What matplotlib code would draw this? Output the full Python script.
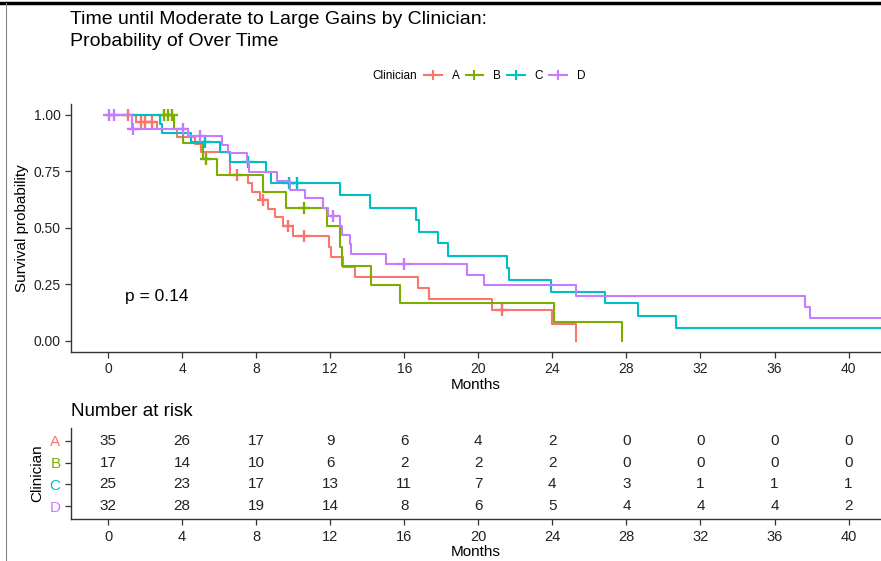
import numpy as np
import matplotlib.pyplot as plt
from matplotlib.lines import Line2D

groups = ['A', 'B', 'C', 'D']
colors = ['#F8766D', '#7CAE00', '#00BFC4', '#C77CFF']

# Kaplan-Meier steps (time of step, survival after step) and censor times
a_time = [0, 1.5, 2.63, 3.7, 4.7, 5.0, 6.6, 7.57, 7.8, 8.2, 8.65, 9.0, 9.46, 10.0,
          11.95, 12.07, 12.7, 13.33, 16.75, 17.35, 20.75, 24.0, 25.25]
a_surv = [1.0, 0.971, 0.938, 0.904, 0.87, 0.835, 0.735, 0.698, 0.66, 0.624, 0.583, 0.55, 0.506, 0.465,
          0.417, 0.373, 0.326, 0.282, 0.232, 0.184, 0.137, 0.072, 0.0]
a_cens = [1.1, 1.8, 2.0, 2.4, 6.95, 8.39, 9.73, 10.6, 21.3]

b_time = [0, 3.55, 4.07, 5.14, 5.87, 8.39, 9.61, 11.85, 12.55, 12.62, 14.2, 15.76, 24.1, 27.75]
b_surv = [1.0, 0.9375, 0.875, 0.805, 0.735, 0.661, 0.587, 0.506, 0.414, 0.332, 0.249, 0.166, 0.083, 0.0]
b_cens = [3.0, 3.25, 3.45, 5.27, 10.6]

c_time = [0, 2.8, 2.9, 4.5, 6.05, 6.59, 8.53, 8.78, 12.52, 14.16, 16.65, 16.78, 17.82, 18.35,
          21.56, 21.65, 23.9, 26.85, 28.6, 30.66, 42.0]
c_surv = [1.0, 0.96, 0.92, 0.88, 0.838, 0.79, 0.749, 0.70, 0.646, 0.59, 0.535, 0.482, 0.431, 0.376,
          0.32, 0.271, 0.217, 0.167, 0.111, 0.056, 0.056]
c_cens = [5.24, 7.57, 9.79, 10.19]

d_time = [0, 1.28, 4.3, 6.14, 6.5, 7.49, 7.6, 9.1, 9.82, 10.63, 11.62, 11.9, 12.52, 12.62, 13.06, 13.15,
          15.0, 19.4, 20.3, 25.26, 37.65, 37.93, 42.0]
d_surv = [1.0, 0.938, 0.907, 0.867, 0.83, 0.79, 0.749, 0.708, 0.668, 0.631, 0.587, 0.553, 0.51, 0.469, 0.43, 0.385,
          0.339, 0.292, 0.245, 0.196, 0.15, 0.10, 0.10]
d_cens = [0.05, 0.3, 1.35, 4.05, 4.97, 12.16, 15.98]

risk_times = [0, 4, 8, 12, 16, 20, 24, 28, 32, 36, 40]
risk_a = [35, 26, 17, 9, 6, 4, 2, 0, 0, 0, 0]
risk_b = [17, 14, 10, 6, 2, 2, 2, 0, 0, 0, 0]
risk_c = [25, 23, 17, 13, 11, 7, 4, 3, 1, 1, 1]
risk_d = [32, 28, 19, 14, 8, 6, 5, 4, 4, 4, 2]

curves = [(a_time, a_surv, a_cens), (b_time, b_surv, b_cens),
          (c_time, c_surv, c_cens), (d_time, d_surv, d_cens)]
risks = [risk_a, risk_b, risk_c, risk_d]

plt.rcParams['font.family'] = ['Liberation Sans', 'DejaVu Sans']
axcol = '#333333'

fig = plt.figure(figsize=(8.81, 5.61), dpi=100)
W, H = 881, 561

def style(ax):
    for s in ['top', 'right']:
        ax.spines[s].set_visible(False)
    for s in ['left', 'bottom']:
        ax.spines[s].set_color(axcol)
        ax.spines[s].set_linewidth(1.0)
    ax.tick_params(colors=axcol, length=4, width=0.9, labelcolor='#222222')

xlim = (-2.0, 41.75)

# survival panel
ax = fig.add_axes([71 / W, 1 - 352 / H, (W - 71) / W, (352 - 103.7) / H])
for (t, s, c), col in zip(curves, colors):
    ax.step(t, s, where='post', color=col, lw=1.5)
    cy = [s[np.searchsorted(t, x, side='right') - 1] for x in c]
    ax.plot(c, cy, ls='none', marker='+', ms=9, mew=1.7, color=col)
ax.set_xlim(*xlim)
ax.set_ylim(-0.05, 1.05)
ax.set_xticks(risk_times)
ax.set_yticks([0, 0.25, 0.5, 0.75, 1.0])
ax.set_yticklabels(['0.00', '0.25', '0.50', '0.75', '1.00'])
ax.tick_params(labelsize=10)
ax.set_xlabel('Months', fontsize=11, labelpad=1)
ax.set_ylabel('Survival probability', fontsize=11, labelpad=3)
style(ax)
ax.text(0.9, 0.195, 'p = 0.14', fontsize=12.5, ha='left', va='center')

# risk table
tx = fig.add_axes([71 / W, 1 - 519.3 / H, (W - 71) / W, (519.3 - 427.7) / H])
for i, r in enumerate(risks):
    y = 4 - i
    for t, n in zip(risk_times, r):
        tx.text(t, y, str(n), ha='center', va='center', fontsize=11, color='#222222')
tx.set_xlim(*xlim)
tx.set_ylim(0.4, 4.6)
tx.set_xticks(risk_times)
tx.set_yticks([4, 3, 2, 1])
tx.set_yticklabels(groups, fontsize=11)
tx.tick_params(axis='x', labelsize=10.5)
tx.set_xlabel('Months', fontsize=11, labelpad=1)
tx.set_ylabel('Clinician', fontsize=11, labelpad=4)
style(tx)
for lab, col in zip(tx.get_yticklabels(), colors):
    lab.set_color(col)

fig.text(71 / W, 1 - 411 / H, 'Number at risk', fontsize=13.5, va='center', ha='left')

# title
fig.text(70 / W, 1 - 20 / H, 'Time until Moderate to Large Gains by Clinician:', fontsize=14,
         va='center', ha='left')
fig.text(70 / W, 1 - 42 / H, 'Probability of Over Time', fontsize=14, va='center', ha='left')

# legend
fig.text(372 / W, 1 - 76 / H, 'Clinician', fontsize=8.5, va='center', ha='left')
handles = [Line2D([], [], color=c, lw=1.5, marker='+', ms=7, mew=1.5) for c in colors]
fig.legend(handles, groups, loc='center left', bbox_to_anchor=(424 / W, 1 - 76 / H), ncol=4,
           frameon=False, fontsize=8.5, handlelength=1.5, handletextpad=0.85, columnspacing=0.5,
           borderpad=0, borderaxespad=0)

# screenshot frame lines
fig.add_artist(Line2D([0, 1], [1 - 3 / H, 1 - 3 / H], color='black', lw=2.5))
fig.add_artist(Line2D([6 / W, 6 / W], [0, 1 - 3 / H], color='#888888', lw=0.8))

fig.savefig('out.png', dpi=100)
